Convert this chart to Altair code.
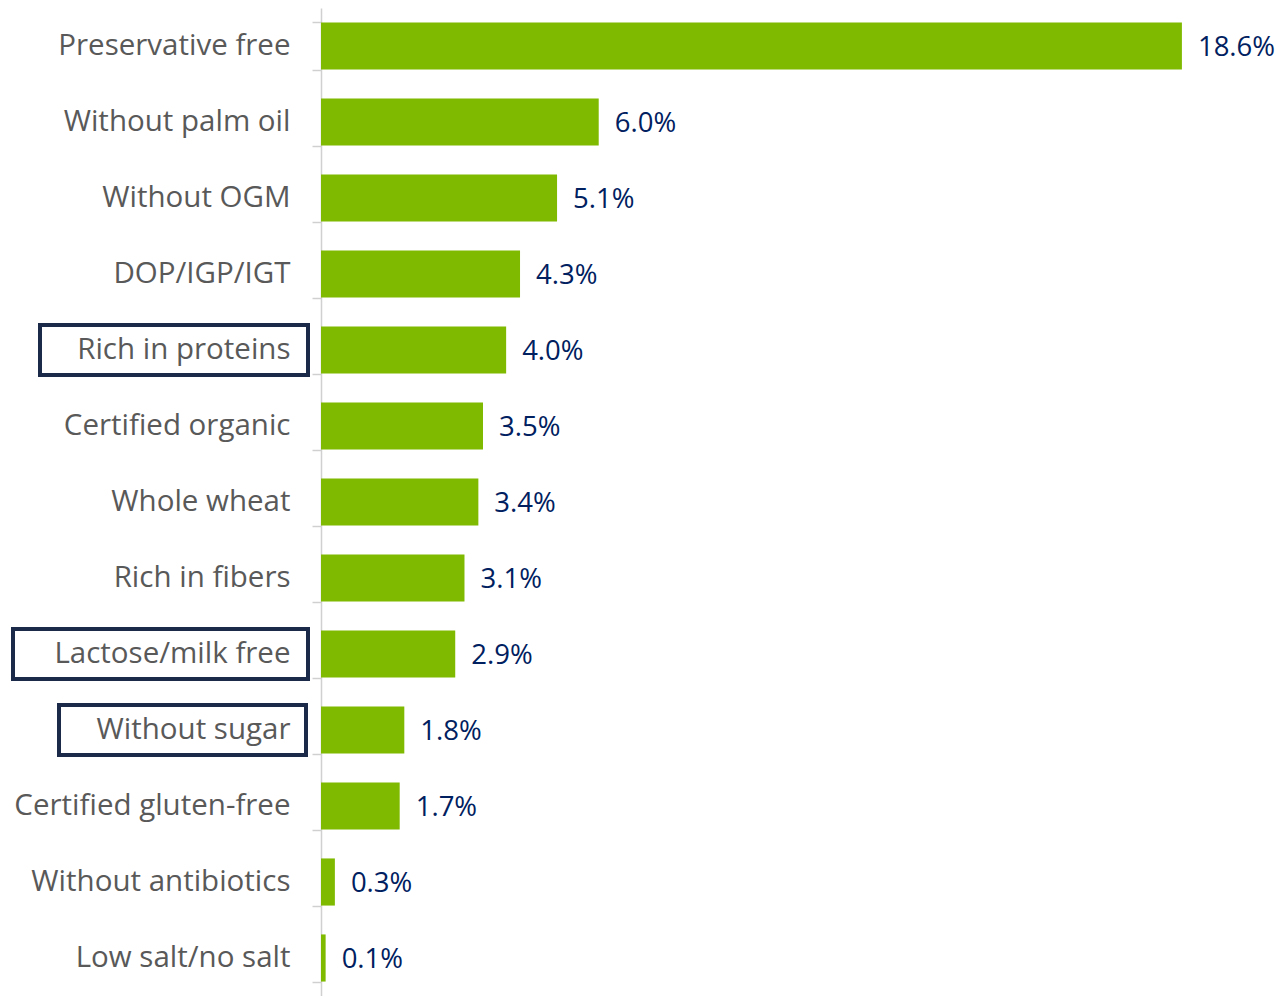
import altair as alt
import pandas as pd

categories = [
    "Preservative free", "Without palm oil", "Without OGM", "DOP/IGP/IGT",
    "Rich in proteins", "Certified organic", "Whole wheat", "Rich in fibers",
    "Lactose/milk free", "Without sugar", "Certified gluten-free",
    "Without antibiotics", "Low salt/no salt",
]
values = [18.6, 6.0, 5.1, 4.3, 4.0, 3.5, 3.4, 3.1, 2.9, 1.8, 1.7, 0.3, 0.1]
highlighted = ["Rich in proteins", "Lactose/milk free", "Without sugar"]

df = pd.DataFrame({"category": categories, "value": values})

FONT = "Open Sans"
GREEN = "#7FBA00"
NAVY = "#002060"
BOX = "#1B2A48"

y_enc = alt.Y(
    "category:N",
    sort=None,
    scale=alt.Scale(paddingInner=0.38, paddingOuter=0.19),
    axis=alt.Axis(
        title=None,
        tickBand="extent",
        tickSize=9,
        tickColor="#D0D0D0",
        domainColor="#D0D0D0",
        domainWidth=1.5,
        tickWidth=1.5,
        labelPadding=22,
        labelFont=FONT,
        labelFontSize=29.5,
        labelColor="#595959",
        labelLimit=400,
        labelBaseline="middle",
        labelOffset=-1,
    ),
)
x_enc = alt.X("value:Q", scale=alt.Scale(domain=[0, 20.46], nice=False), axis=None)

base = alt.Chart(df)

bars = base.mark_bar(color=GREEN).encode(x=x_enc, y=y_enc)

text = base.transform_calculate(
    label="format(datum.value, '.1f') + '%'"
).mark_text(
    align="left", baseline="middle", dx=16, dy=2, font=FONT, fontSize=27.5, color=NAVY
).encode(x=x_enc, y=y_enc, text="label:N")

box_extent = {
    "Rich in proteins": (-281, -13),
    "Lactose/milk free": (-308, -13),
    "Without sugar": (-262, -15),
}
layers = [bars, text]
for name in highlighted:
    x1, x2 = box_extent[name]
    layers.append(
        base.transform_filter(alt.datum.category == name)
        .mark_bar(filled=False, stroke=BOX, strokeWidth=4, size=50)
        .encode(y=y_enc, x=alt.value(x1), x2=alt.value(x2))
    )

chart = alt.layer(*layers).properties(
    width=947,
    height=988,
    autosize=alt.AutoSizeParams(type="none"),
    padding={"left": 313, "top": 0, "right": 8, "bottom": 0},
).configure_view(stroke=None)

chart.save("out.html", embed_options={"renderer": "svg", "actions": False})
